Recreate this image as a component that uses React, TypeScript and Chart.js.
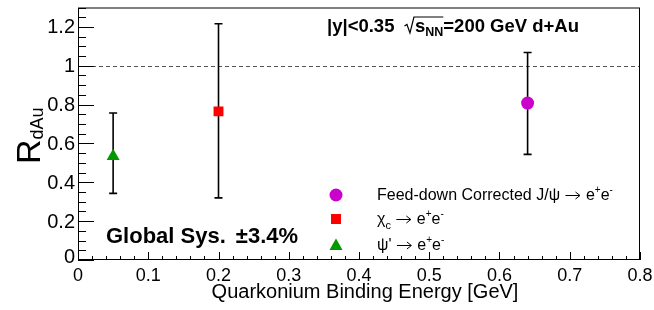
import React, { useEffect, useRef } from "react";
import { Chart, registerables } from "chart.js";

Chart.register(...registerables);

const FONT = '"Liberation Sans", Arial, Helvetica, sans-serif';

// ---- data ----
const seriesNames = ["Feed-down Corrected J/ψ → e+e-", "χc → e+e-", "ψ' → e+e-"];
const bindingEnergy = [0.64, 0.2, 0.05]; // GeV
const rdAu = [0.808, 0.765, 0.534];
const rdAuUpper = [1.068, 1.216, 0.757];
const rdAuLower = [0.544, 0.32, 0.343];
const seriesColors = ["#cc00cc", "#ff0000", "#009900"];
const seriesMarkers = ["circle", "rect", "triangle"];
const seriesRadius = [6.5, 7, 7.5];
// legend label parts: [text, 0 normal | 1 superscript | -1 subscript | 2 arrow]
const seriesLabelParts: [string, number][][] = [
  [["Feed-down Corrected J/ψ ", 0], ["→", 2], [" e", 0], ["+", 1], ["e", 0], ["-", 1]],
  [["χ", 0], ["c", -1], [" ", 0], ["→", 2], [" e", 0], ["+", 1], ["e", 0], ["-", 1]],
  [["ψ' ", 0], ["→", 2], [" e", 0], ["+", 1], ["e", 0], ["-", 1]],
];

const xMin = 0;
const xMax = 0.8;
const yMin = 0;
const yMax = 1.3;
const xTicks = [0, 0.1, 0.2, 0.3, 0.4, 0.5, 0.6, 0.7, 0.8];
const xTickLabels = ["0", "0.1", "0.2", "0.3", "0.4", "0.5", "0.6", "0.7", "0.8"];
const yTicks = [0, 0.2, 0.4, 0.6, 0.8, 1.0, 1.2];
const yTickLabels = ["0", "0.2", "0.4", "0.6", "0.8", "1", "1.2"];
const xMinorStep = 0.02;
const yMinorStep = 0.05;
const referenceLine = 1;

const xTitle = "Quarkonium Binding Energy [GeV]";
const yTitleMain = "R";
const yTitleSub = "dAu";
const headerLeft = "|y|<0.35";
const headerRight = "=200 GeV d+Au";
const globalSysLabel = "Global Sys.";
const globalSysValue = "±3.4%";

type Seg = { t: string; size: number; bold?: boolean; dy?: number; arrow?: boolean };

function drawSegs(ctx: CanvasRenderingContext2D, x: number, y: number, segs: Seg[]) {
  let cx = x;
  for (const s of segs) {
    if (s.arrow) {
      const ay = Math.round(y - 5) + 0.5;
      ctx.save();
      ctx.strokeStyle = "#000";
      ctx.lineWidth = 1;
      ctx.beginPath();
      ctx.moveTo(cx + 1, ay);
      ctx.lineTo(cx + 15, ay);
      ctx.moveTo(cx + 11, ay - 3.5);
      ctx.lineTo(cx + 15.5, ay);
      ctx.lineTo(cx + 11, ay + 3.5);
      ctx.stroke();
      ctx.restore();
      cx += 17;
      continue;
    }
    ctx.font = `${s.bold ? "bold " : ""}${s.size}px ${FONT}`;
    ctx.fillText(s.t, cx, y + (s.dy || 0));
    cx += ctx.measureText(s.t).width;
  }
  return cx;
}

const decorPlugin = {
  id: "rootDecor",
  beforeDatasetsDraw(chart: any) {
    const ctx: CanvasRenderingContext2D = chart.ctx;
    const a = chart.chartArea;
    const xs = chart.scales.x;
    const ys = chart.scales.y;
    ctx.save();
    const yr = Math.round(ys.getPixelForValue(referenceLine)) + 0.5;
    ctx.strokeStyle = "#555";
    ctx.lineWidth = 1;
    ctx.setLineDash([4, 3]);
    ctx.beginPath();
    ctx.moveTo(a.left, yr);
    ctx.lineTo(a.right, yr);
    ctx.stroke();
    ctx.setLineDash([]);
    ctx.strokeStyle = "#000";
    ctx.lineWidth = 1.6;
    for (let i = 0; i < bindingEnergy.length; i++) {
      const px = xs.getPixelForValue(bindingEnergy[i]);
      const pt = ys.getPixelForValue(rdAuUpper[i]);
      const pb = ys.getPixelForValue(rdAuLower[i]);
      ctx.beginPath();
      ctx.moveTo(px, pt);
      ctx.lineTo(px, pb);
      ctx.moveTo(px - 4, pt);
      ctx.lineTo(px + 4, pt);
      ctx.moveTo(px - 4, pb);
      ctx.lineTo(px + 4, pb);
      ctx.stroke();
    }
    ctx.restore();
  },
  afterDraw(chart: any) {
    const ctx: CanvasRenderingContext2D = chart.ctx;
    const a = chart.chartArea;
    const xs = chart.scales.x;
    const ys = chart.scales.y;
    ctx.save();
    ctx.fillStyle = "#000";
    ctx.strokeStyle = "#000";
    ctx.lineWidth = 1;
    ctx.strokeRect(a.left + 0.5, a.top + 0.5, a.right - a.left - 1, a.bottom - a.top - 1);
    ctx.beginPath();
    for (let i = 0; i * yMinorStep <= yMax + 1e-9; i++) {
      const v = i * yMinorStep;
      const py = Math.round(ys.getPixelForValue(v)) + 0.5;
      const isMajor = yTicks.some((t) => Math.abs(t - v) < 1e-6);
      ctx.moveTo(a.left, py);
      ctx.lineTo(a.left + (isMajor ? 16 : 8), py);
    }
    for (let i = 0; i * xMinorStep <= xMax + 1e-9; i++) {
      const v = i * xMinorStep;
      const px = Math.round(xs.getPixelForValue(v)) + 0.5;
      const isMajor = xTicks.some((t) => Math.abs(t - v) < 1e-6);
      ctx.moveTo(px, a.bottom);
      ctx.lineTo(px, a.bottom - (isMajor ? 8 : 4));
    }
    ctx.stroke();
    ctx.font = `20px ${FONT}`;
    ctx.textAlign = "right";
    ctx.textBaseline = "middle";
    yTicks.forEach((v, i) => {
      const py = ys.getPixelForValue(v);
      ctx.fillText(yTickLabels[i], a.left - 3, i === 0 ? py - 3 : py + 1);
    });
    ctx.font = `18px ${FONT}`;
    ctx.textAlign = "center";
    ctx.textBaseline = "alphabetic";
    xTicks.forEach((v, i) => {
      const px = xs.getPixelForValue(v);
      ctx.fillText(xTickLabels[i], px, a.bottom + 21);
    });
    ctx.font = `20px ${FONT}`;
    ctx.fillText(xTitle, 365, 298);
    ctx.textAlign = "left";
    ctx.save();
    ctx.translate(40, 164);
    ctx.rotate(-Math.PI / 2);
    drawSegs(ctx, 0, 0, [
      { t: yTitleMain, size: 34 },
      { t: yTitleSub, size: 18, dy: 3 },
    ]);
    ctx.restore();
    // header
    const hb = 32;
    const hs = 18.5;
    let hx = drawSegs(ctx, 327, hb, [{ t: headerLeft, size: hs, bold: true }]);
    hx += 10;
    const sqStart = hx;
    ctx.lineWidth = 1.2;
    ctx.beginPath();
    ctx.moveTo(sqStart, hb - 6);
    ctx.lineTo(sqStart + 2.5, hb - 7.5);
    ctx.lineTo(sqStart + 5.5, hb + 1);
    ctx.lineTo(sqStart + 9.5, hb - 15);
    hx = sqStart + 10.5;
    const afterS = drawSegs(ctx, hx, hb, [
      { t: "s", size: hs, bold: true },
      { t: "NN", size: 12.5, bold: true, dy: 4 },
    ]);
    ctx.lineTo(afterS, hb - 15);
    ctx.stroke();
    drawSegs(ctx, afterS, hb, [{ t: headerRight, size: hs, bold: true }]);
    // global sys
    const gx = drawSegs(ctx, 106, 243, [{ t: globalSysLabel, size: 22, bold: true }]);
    drawSegs(ctx, gx + 10, 243, [{ t: globalSysValue, size: 22, bold: true }]);
    // legend
    const lx = 336;
    const rows = [195, 219, 245];
    for (let i = 0; i < seriesNames.length; i++) {
      const cy = rows[i];
      ctx.fillStyle = seriesColors[i];
      ctx.beginPath();
      if (seriesMarkers[i] === "circle") {
        ctx.arc(lx, cy, 6.5, 0, Math.PI * 2);
      } else if (seriesMarkers[i] === "rect") {
        ctx.rect(lx - 5, cy - 5, 10, 10);
      } else {
        ctx.moveTo(lx, cy - 6.5);
        ctx.lineTo(lx + 6.5, cy + 5);
        ctx.lineTo(lx - 6.5, cy + 5);
        ctx.closePath();
      }
      ctx.fill();
      ctx.fillStyle = "#000";
      const segs: Seg[] = seriesLabelParts[i].map(([t, k]) =>
        k === 1
          ? { t, size: 10, dy: -7 }
          : k === -1
          ? { t, size: 11, dy: 5 }
          : k === 2
          ? { t, size: 16, arrow: true }
          : { t, size: 16 }
      );
      drawSegs(ctx, 377, cy + 5, segs);
    }
    ctx.restore();
  },
};

export default function App() {
  const ref = useRef<HTMLCanvasElement | null>(null);
  useEffect(() => {
    if (!ref.current) return;
    const chart = new Chart(ref.current, {
      type: "scatter",
      data: {
        datasets: seriesNames.map((name, i) => ({
          label: name,
          data: [{ x: bindingEnergy[i], y: rdAu[i] }],
          pointStyle: seriesMarkers[i] as any,
          pointRadius: seriesRadius[i],
          pointHoverRadius: seriesRadius[i],
          backgroundColor: seriesColors[i],
          borderColor: seriesColors[i],
          borderWidth: 0,
          showLine: false,
        })),
      },
      options: {
        animation: false,
        responsive: false,
        devicePixelRatio: 1,
        events: [],
        layout: { padding: { left: 78, right: 14, top: 5, bottom: 50 } },
        plugins: { legend: { display: false }, tooltip: { enabled: false } },
        scales: {
          x: { type: "linear", min: xMin, max: xMax, display: false },
          y: { type: "linear", min: yMin, max: yMax, display: false },
        },
      },
      plugins: [decorPlugin],
    });
    return () => chart.destroy();
  }, []);
  return (
    <div style={{ position: "fixed", left: 0, top: 0, width: 654, height: 310, background: "#fff" }}>
      <canvas ref={ref} width={654} height={310} style={{ width: 654, height: 310 }} />
    </div>
  );
}
